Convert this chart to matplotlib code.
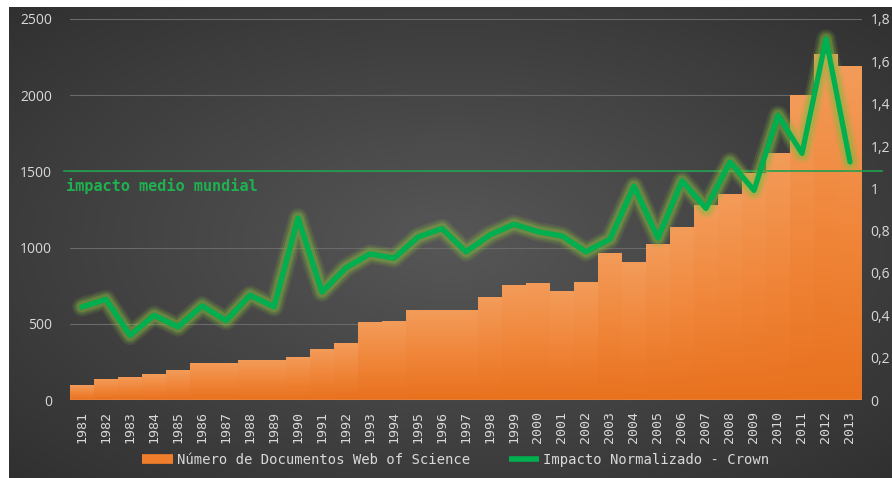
import numpy as np
import matplotlib.pyplot as plt
from matplotlib.lines import Line2D
from matplotlib.colors import LinearSegmentedColormap
from matplotlib.ticker import FuncFormatter

# data
years = list(range(1981, 2014))
documentos = [98, 140, 152, 170, 196, 243, 243, 263, 263, 283, 336, 374,
              513, 518, 592, 592, 592, 675, 755, 768, 716, 774,
              965, 905, 1024, 1132, 1280, 1352, 1490, 1620, 2000, 2272, 2190]
impacto = [0.44, 0.475, 0.305, 0.40, 0.345, 0.445, 0.375, 0.495, 0.44, 0.86,
           0.51, 0.625, 0.69, 0.67, 0.77, 0.81, 0.70, 0.78, 0.83, 0.795,
           0.775, 0.70, 0.76, 1.01, 0.765, 1.035, 0.905, 1.125, 0.99, 1.345,
           1.165, 1.705, 1.125]
impacto_medio = 1500  # drawn on the left scale, as in the original

bar_color = '#ef7d2c'
green = '#00b050'
text_grey = '#d9d9d9'

fig = plt.figure(figsize=(8.92, 4.78), dpi=100, facecolor='white')

# dark radial background
bg = fig.add_axes([9 / 892, 0, 1 - 9 / 892, 1 - 7 / 478])
bg.axis('off')
gx, gy = np.meshgrid(np.linspace(-1, 1, 400), np.linspace(-1, 1, 220))
r = np.sqrt(gx ** 2 + gy ** 2) / np.sqrt(2)
shade = 0.34 - 0.15 * r
bg.imshow(np.dstack([shade, shade, shade]), aspect='auto', extent=[0, 1, 0, 1])

ax = fig.add_axes([70 / 892, 78 / 478, 792 / 892, 381 / 478])
ax.patch.set_alpha(0)
x = np.arange(len(years))
bars = ax.bar(x, documentos, width=1.0, color=bar_color, linewidth=0, zorder=2)

# vertical orange gradient inside every bar
grad = LinearSegmentedColormap.from_list('naranja', ['#e8711e', '#f0863a', '#f39c5a'])
ramp = np.linspace(0, 1, 128).reshape(-1, 1)
for b in bars:
    x0, w, h = b.get_x(), b.get_width(), b.get_height()
    im = ax.imshow(ramp, cmap=grad, origin='lower', aspect='auto',
                   extent=[x0, x0 + w, 0, h], zorder=2.1, interpolation='bicubic')
    im.set_clip_path(b)

ax.set_xlim(-0.5, len(years) - 0.5)
ax.set_ylim(0, 2500)
ax.set_yticks(range(0, 2501, 500))
ax.grid(axis='y', color='#6a6a6a', linewidth=0.8, zorder=0)
ax.set_xticks(x)
ax.set_xticklabels(years, rotation=90, family='DejaVu Sans Mono', fontsize=9.5, color=text_grey)
ax.tick_params(axis='x', length=0, pad=8)
ax.tick_params(axis='y', length=0, pad=13, labelcolor=text_grey, labelsize=10)
for lab in ax.get_yticklabels():
    lab.set_family('Open Sans')
for s in ax.spines.values():
    s.set_visible(False)
ax.axhline(0, color='#f4b48a', linewidth=1.0, zorder=3)

# world average reference line
ax.plot([-0.007, 1.025], [impacto_medio, impacto_medio], color='#1fa04f', linewidth=1.2,
        transform=ax.get_yaxis_transform(), clip_on=False, zorder=4)
ax.text(-0.005, impacto_medio - 45, 'impacto medio mundial', transform=ax.get_yaxis_transform(),
        ha='left', va='top', family='DejaVu Sans Mono', fontweight='bold', fontsize=11,
        color='#1fb050', zorder=4)

ax2 = ax.twinx()
ax2.set_ylim(0, 1.8)
ax2.set_yticks(np.arange(0, 1.81, 0.2))
ax2.yaxis.set_major_formatter(FuncFormatter(lambda v, p: ('%g' % round(v, 1)).replace('.', ',')))
ax2.tick_params(axis='y', length=0, pad=6, labelcolor=text_grey, labelsize=10)
for lab in ax2.get_yticklabels():
    lab.set_family('Open Sans')
for s in ax2.spines.values():
    s.set_visible(False)

# glowing line: soft halo layers, then the solid core
for lw, a in [(14, 0.14), (11, 0.22), (8, 0.35)]:
    ax2.plot(x, impacto, color='#84b840', linewidth=lw, alpha=a,
             solid_joinstyle='round', solid_capstyle='round')
ax2.plot(x, impacto, color=green, linewidth=3.8, solid_joinstyle='round', solid_capstyle='round')

handles = [Line2D([], [], color=bar_color, linewidth=7, solid_capstyle='butt'),
           Line2D([], [], color=green, linewidth=4, solid_capstyle='butt')]
labels = ['Número de Documentos Web of Science', 'Impacto Normalizado - Crown']
fig.legend(handles, labels, loc='center', bbox_to_anchor=(0.511, 0.037), ncol=2, frameon=False,
           prop={'family': 'DejaVu Sans Mono', 'size': 10}, labelcolor=text_grey,
           handlelength=2.2, handletextpad=0.3, columnspacing=2.8)

fig.savefig('out.png', dpi=100, facecolor='white')
